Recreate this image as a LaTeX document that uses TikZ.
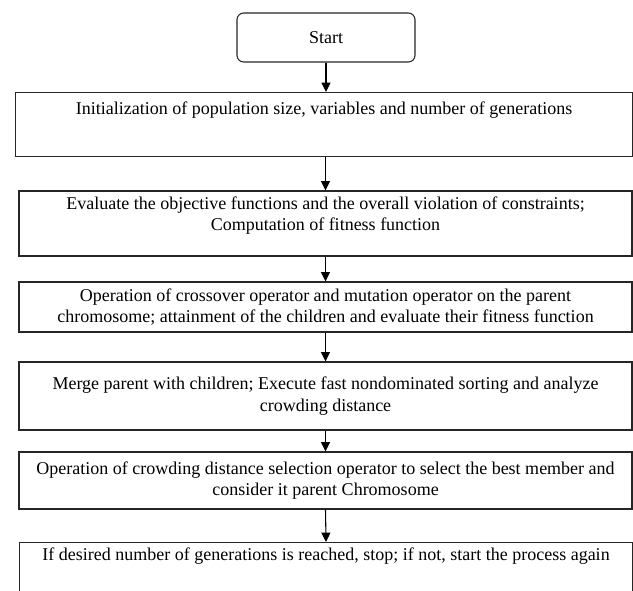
\documentclass[tikz,border=0pt]{standalone}
\usepackage{fontspec}
\setmainfont{Liberation Serif}
\usetikzlibrary{arrows.meta}
\begin{document}
\begin{tikzpicture}[x=0.75pt,y=-0.75pt,
  every node/.style={font=\fontsize{13.5}{16}\selectfont, text=black},
  box/.style={draw=black!85, line width=0.8pt, inner sep=0pt, align=center,
    minimum width=459.75pt},
  topbox/.style={draw=black!85, line width=0.8pt, inner sep=0pt, anchor=north west},
  startbox/.style={draw=black!85, line width=0.8pt, rounded corners=5pt,
    minimum width=133.5pt, minimum height=36.75pt, inner sep=0pt},
  arr/.style={draw=black, line width=0.8pt, -{Triangle[length=7pt,width=6.75pt]}}]
\clip (0,0) rectangle (633,591);
\fill[white] (0,0) rectangle (633,591);
\node[startbox] (s) at (326,37.5) {Start};
\node[topbox, minimum width=462.75pt, text height=16.5pt, text depth=31.5pt] (b1) at (15,92)
  {Initialization of population size, variables and number of generations};
\node[box, minimum height=48.75pt] (b2) at (325.5,223.5)
  {Evaluate the objective functions and the overall violation of constraints;\\
   Computation of fitness function\\[-1pt]\mbox{}};
\node[box, minimum height=37.5pt] (b3) at (325.5,307)
  {Operation of crossover operator and mutation operator on the parent\\
   chromosome; attainment of the children and evaluate their fitness function};
\node[box, minimum height=51pt] (b4) at (325.5,396)
  {Merge parent with children; Execute fast nondominated sorting and analyze\\
   crowding distance};
\node[box, minimum height=42.75pt] (b5) at (325.5,480.5)
  {Operation of crowding distance selection operator to select the best member and\\
   consider it parent Chromosome};
\node[topbox, minimum width=459.75pt, text height=13.5pt, text depth=37.5pt] (b6) at (19,542)
  {If desired number of generations is reached, stop; if not, start the process again};
\draw[arr] (s.south) -- (s.south |- b1.north);
\draw[arr] (b1.south -| b2.north) -- (b2.north);
\draw[arr] (b2.south) -- (b3.north);
\draw[arr] (b3.south) -- (b4.north);
\draw[arr] (b4.south) -- (b5.north);
\draw[arr] (b5.south) -- (b6.north);
\end{tikzpicture}
\end{document}
